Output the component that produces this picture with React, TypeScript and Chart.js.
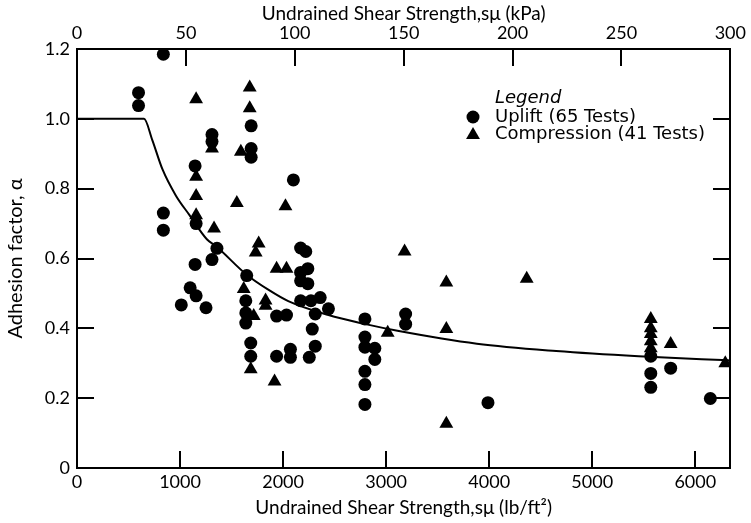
import React, { useEffect, useRef, useState } from "react";
import { Chart, registerables } from "chart.js";

Chart.register(...registerables);

// ---- Data ----
const upliftLabel = "Uplift (65 Tests)";
const compressionLabel = "Compression (41 Tests)";
const legendTitle = "Legend";

const xTitleBottom = "Undrained Shear Strength,sμ (lb/ft²)";
const xTitleTop = "Undrained Shear Strength,sμ (kPa)";
const yTitle = "Adhesion factor, α";

// Uplift tests: strength (lb/ft²) and adhesion factor
const upliftX = [
  597, 597, 838, 838, 838, 1146, 1156, 1146, 1098, 1156, 1012, 1252, 1310, 1310, 1358, 1310,
  1690, 1690, 1690, 1647, 1638, 1638, 1638, 1686, 1686, 2100, 2170, 2220, 2170, 2240, 2170,
  2240, 2170, 2270, 2360, 2440, 1937, 2033, 2312, 2283, 1937, 2071, 2071, 2312, 2254, 2794,
  2794, 2794, 2890, 2890, 2794, 2794, 2794, 3189, 3189, 3988, 5568, 5568, 5568, 5761, 6146,
];
const upliftY = [
  1.075, 1.038, 1.185, 0.73, 0.681, 0.865, 0.70, 0.583, 0.516, 0.493, 0.467, 0.459, 0.955, 0.935,
  0.629, 0.597, 0.98, 0.915, 0.89, 0.551, 0.479, 0.444, 0.415, 0.358, 0.32, 0.825, 0.63, 0.62,
  0.56, 0.571, 0.536, 0.528, 0.479, 0.479, 0.488, 0.456, 0.435, 0.438, 0.441, 0.398, 0.32, 0.34,
  0.317, 0.349, 0.317, 0.427, 0.375, 0.346, 0.343, 0.311, 0.277, 0.239, 0.182, 0.441, 0.412,
  0.187, 0.32, 0.271, 0.231, 0.286, 0.199,
];

// Compression tests
const compressionX = [
  1156, 1676, 1676, 1310, 1590, 1156, 1156, 1551, 2023, 1156, 1330, 1763, 1734, 1618, 1715,
  1830, 1830, 1937, 2033, 1686, 1917, 3015, 3179, 3584, 4364, 3584, 3584, 5568, 5568, 5568,
  5568, 5568, 5761, 6291,
];
const compressionY = [
  1.056, 1.09, 1.03, 0.915, 0.906, 0.834, 0.779, 0.759, 0.75, 0.724, 0.686, 0.643, 0.617, 0.513,
  0.435, 0.48, 0.465, 0.571, 0.571, 0.283, 0.248, 0.387, 0.62, 0.531, 0.542, 0.398, 0.127, 0.427,
  0.40, 0.384, 0.363, 0.343, 0.355, 0.30,
];

// Design curve
const curveX = [0, 650, 730, 830, 960, 1090, 1260, 1350, 1640, 1860, 2050, 2440, 2800, 3110, 3880, 4650, 5450, 6260, 6340];
const curveY = [1.0, 1.0, 0.94, 0.855, 0.78, 0.725, 0.655, 0.635, 0.555, 0.51, 0.478, 0.438, 0.412, 0.393, 0.356, 0.335, 0.32, 0.309, 0.308];

// Axis ranges / ticks
const xMin = 0;
const xMax = 6340;
const xTickValues = [0, 1000, 2000, 3000, 4000, 5000, 6000];
const kpaMin = 0;
const kpaMax = 300;
const kpaTickValues = [0, 50, 100, 150, 200, 250, 300];
const yMin = 0;
const yMax = 1.2;
const yTickValues = [0, 0.2, 0.4, 0.6, 0.8, 1.0, 1.2];

const toPoints = (xs: number[], ys: number[]) => xs.map((x, i) => ({ x, y: ys[i] }));
const setTicks = (vals: number[]) => (s: any) => {
  s.ticks = vals.map((value) => ({ value }));
};

const FAMILY = "Lato, 'Open Sans', sans-serif";
const TICK_FONT = { family: FAMILY, size: 18 };
const TITLE_FONT = { family: FAMILY, size: 19 };
const YTITLE_FONT = { family: FAMILY, size: 20 };

const TICK_LEN = 17;
const RIGHT_PAD = 14;

type Rect = { x: number; y: number; w: number; h: number };

// inward tick marks + right edge of the frame, computed from the chart's own scales
function frameRects(chart: any): Rect[] {
  const a = chart.chartArea;
  const sc = chart.scales;
  const rects: Rect[] = [];
  for (let i = 1; i < xTickValues.length; i++) {
    const px = Math.round(sc.x.getPixelForValue(xTickValues[i]));
    rects.push({ x: px - 1, y: a.bottom - TICK_LEN, w: 2, h: TICK_LEN });
  }
  for (let i = 1; i < kpaTickValues.length - 1; i++) {
    const px = Math.round(sc.x2.getPixelForValue(kpaTickValues[i]));
    rects.push({ x: px - 1, y: a.top, w: 2, h: TICK_LEN });
  }
  for (let i = 1; i < yTickValues.length - 1; i++) {
    const py = Math.round(sc.y.getPixelForValue(yTickValues[i]));
    rects.push({ x: a.left, y: py - 1, w: TICK_LEN, h: 2 });
    rects.push({ x: a.right - TICK_LEN, y: py - 1, w: TICK_LEN, h: 2 });
  }
  rects.push({ x: Math.round(a.right) - 1, y: a.top - 1, w: 2, h: a.bottom - a.top + 2 });
  return rects;
}

function drawLegend(chart: any) {
  const ctx = chart.ctx;
  const a = chart.chartArea;
  const mx = a.left + 396;
  const tx = a.left + 418;
  const r1 = a.top + 49;
  const r2 = a.top + 68;
  const r3 = a.top + 85;
  ctx.save();
  ctx.fillStyle = "#000";
  ctx.textBaseline = "middle";
  ctx.textAlign = "left";
  ctx.font = "italic 18px 'DejaVu Sans', sans-serif";
  ctx.fillText(legendTitle, tx, r1);
  ctx.font = "18px 'DejaVu Sans', sans-serif";
  ctx.fillText(upliftLabel, tx, r2);
  ctx.fillText(compressionLabel, tx, r3);
  ctx.beginPath();
  ctx.arc(mx, r2, 6.5, 0, Math.PI * 2);
  ctx.fill();
  const r = 8;
  const cy = r3 + 1;
  ctx.beginPath();
  ctx.moveTo(mx, cy - r);
  ctx.lineTo(mx + r * 0.866, cy + r * 0.5);
  ctx.lineTo(mx - r * 0.866, cy + r * 0.5);
  ctx.closePath();
  ctx.fill();
  ctx.restore();
}

const decorPlugin = {
  id: "decor",
  afterDraw(chart: any) {
    drawLegend(chart);
    const ctx = chart.ctx;
    ctx.save();
    ctx.fillStyle = "#000";
    frameRects(chart).forEach((r) => ctx.fillRect(r.x, r.y, r.w, r.h));
    ctx.restore();
  },
};

export default function App() {
  const ref = useRef<HTMLCanvasElement | null>(null);
  const [marks, setMarks] = useState<Rect[]>([]);

  useEffect(() => {
    if (!ref.current) return;
    const chart = new Chart(ref.current, {
      type: "scatter",
      data: {
        datasets: [
          {
            label: upliftLabel,
            data: toPoints(upliftX, upliftY),
            pointStyle: "circle",
            pointRadius: 6.5,
            pointBackgroundColor: "#000",
            pointBorderWidth: 0,
            order: 2,
          },
          {
            label: compressionLabel,
            data: toPoints(compressionX, compressionY),
            pointStyle: "triangle",
            pointRadius: 8,
            pointBackgroundColor: "#000",
            pointBorderWidth: 0,
            order: 1,
          },
          {
            label: "curve",
            data: toPoints(curveX, curveY),
            showLine: true,
            borderColor: "#000",
            borderWidth: 2,
            pointRadius: 0,
            cubicInterpolationMode: "monotone",
            order: 3,
          } as any,
        ],
      },
      options: {
        responsive: false,
        devicePixelRatio: 1,
        animation: false,
        layout: { padding: { left: 0, right: RIGHT_PAD, top: 0, bottom: 0 } },
        plugins: { legend: { display: false }, tooltip: { enabled: false } },
        scales: {
          x: {
            type: "linear",
            position: "bottom",
            min: xMin,
            max: xMax,
            afterBuildTicks: setTicks(xTickValues),
            grid: { display: false, drawTicks: false },
            border: { display: true, color: "#000", width: 2 },
            ticks: {
              color: "#000",
              font: TICK_FONT,
              padding: 3,
              maxRotation: 0,
              autoSkip: false,
              callback: (v: any) => String(v),
            },
            title: { display: true, text: xTitleBottom, color: "#000", font: TITLE_FONT, padding: { top: 0, bottom: 4 } },
            afterFit: (s: any) => { s.height = 55; },
          },
          x2: {
            type: "linear",
            position: "top",
            min: kpaMin,
            max: kpaMax,
            afterBuildTicks: setTicks(kpaTickValues),
            grid: { display: false, drawTicks: false },
            border: { display: true, color: "#000", width: 2 },
            ticks: {
              color: "#000",
              font: TICK_FONT,
              padding: 5,
              maxRotation: 0,
              autoSkip: false,
              callback: (v: any) => String(v),
            },
            title: { display: true, text: xTitleTop, color: "#000", font: TITLE_FONT, padding: { top: 2, bottom: 0 } },
            afterFit: (s: any) => { s.height = 49; },
          },
          y: {
            type: "linear",
            position: "left",
            min: yMin,
            max: yMax,
            afterBuildTicks: setTicks(yTickValues),
            grid: { display: false, drawTicks: false },
            border: { display: true, color: "#000", width: 2 },
            ticks: {
              color: "#000",
              font: TICK_FONT,
              padding: 7,
              callback: (v: any) => (v === 0 ? "0" : Number(v).toFixed(1)),
            },
            title: { display: true, text: yTitle, color: "#000", font: YTITLE_FONT, padding: { top: 4, bottom: 0 } },
            afterFit: (s: any) => { s.width = 77; },
          },
        },
      },
      plugins: [decorPlugin],
    } as any);
    try {
      setMarks(frameRects(chart));
    } catch (e) {
      setMarks([]);
    }
    return () => chart.destroy();
  }, []);

  return (
    <div style={{ position: "fixed", left: 0, top: 0, width: 751, height: 523, background: "#fff" }}>
      <canvas ref={ref} width={751} height={523} style={{ display: "block" }} />
      {marks.map((r, i) => (
        <div
          key={i}
          style={{ position: "absolute", left: r.x, top: r.y, width: r.w, height: r.h, background: "#000" }}
        />
      ))}
    </div>
  );
}
